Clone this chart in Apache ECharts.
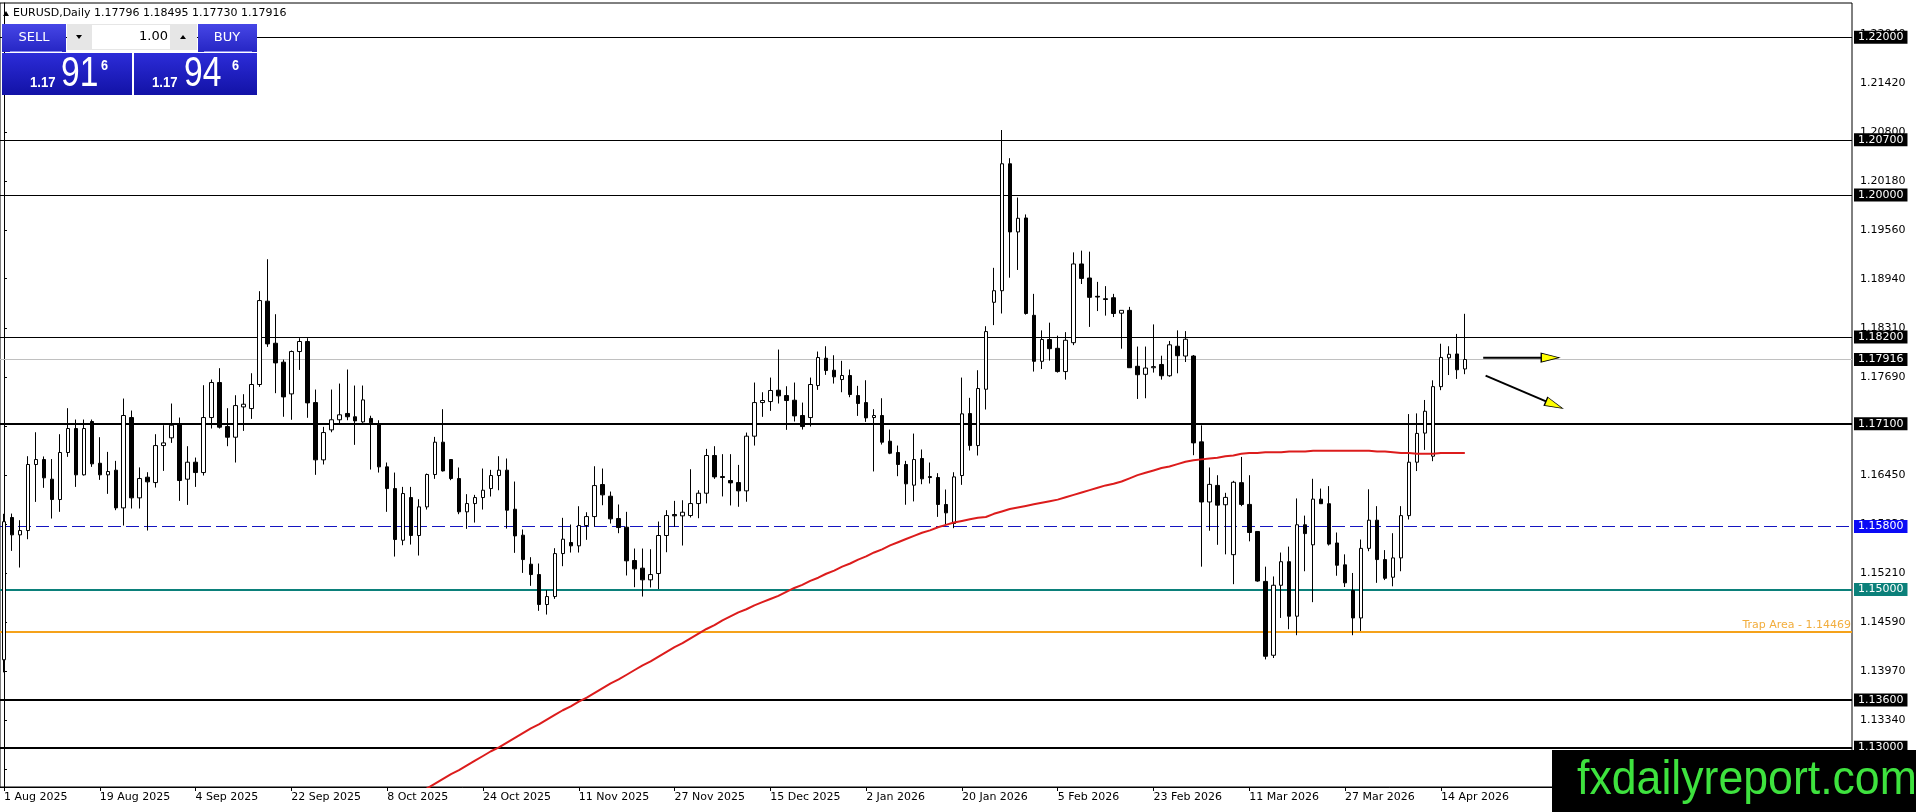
<!DOCTYPE html>
<html><head><meta charset="utf-8">
<script src="https://cdn.jsdelivr.net/npm/echarts@6/dist/echarts.min.js"></script>
<style>html,body{margin:0;padding:0;background:#fff;overflow:hidden}#c{width:1916px;height:812px}</style>
</head><body><div id="c"></div>
<script>
// ---------------- DATA ----------------
const symbolName = 'EURUSD,Daily';
const tradingDays = [
  ['Aug 2025', [1,4,5,6,7,8,11,12,13,14,15,18,19,20,21,22,25,26,27,28,29]],
  ['Sep 2025', [1,2,3,4,5,8,9,10,11,12,15,16,17,18,19,22,23,24,25,26,29,30]],
  ['Oct 2025', [1,2,3,6,7,8,9,10,13,14,15,16,17,20,21,22,23,24,27,28,29,30,31]],
  ['Nov 2025', [3,4,5,6,7,10,11,12,13,14,17,18,19,20,21,24,25,26,27,28]],
  ['Dec 2025', [1,2,3,4,5,8,9,10,11,12,15,16,17,18,19,22,23,24,26,29,30,31]],
  ['Jan 2026', [2,5,6,7,8,9,12,13,14,15,16,19,20,21,22,23,26,27,28,29,30]],
  ['Feb 2026', [2,3,4,5,6,9,10,11,12,13,16,17,18,19,20,23,24,25,26,27]],
  ['Mar 2026', [2,3,4,5,6,9,10,11,12,13,16,17,18,19,20,23,24,25,26,27,30,31]],
  ['Apr 2026', [1,2,3,6,7,8,9,10,13,14,15,16,17]]
];
const xTickLabels = ['1 Aug 2025','19 Aug 2025','4 Sep 2025','22 Sep 2025','8 Oct 2025','24 Oct 2025',
  '11 Nov 2025','27 Nov 2025','15 Dec 2025','2 Jan 2026','20 Jan 2026','5 Feb 2026','23 Feb 2026',
  '11 Mar 2026','27 Mar 2026','14 Apr 2026'];
const yTickLabels = [1.2204,1.2142,1.2080,1.2018,1.1956,1.1894,1.1831,1.1769,1.1707,1.1645,1.1583,1.1521,1.1459,1.1397,1.1334,1.1272];
const emptySlots = 48;   // empty bars to the right of the last candle

// [open, high, low, close]
const ohlc = [
[1.1411,1.1596,1.1395,1.1586],[1.15913,1.15963,1.1549,1.15693],[1.15693,1.15879,1.15279,1.15748],[1.15748,1.1669,1.15638,1.16585],
[1.16585,1.16994,1.16111,1.16648],[1.16648,1.16687,1.16289,1.16416],[1.16399,1.16654,1.159,1.16141],[1.16141,1.16969,1.15985,1.16737],
[1.16737,1.17299,1.16682,1.17041],[1.17041,1.17155,1.16301,1.16454],[1.16454,1.17155,1.16445,1.17041],[1.1713,1.17155,1.16555,1.16593],
[1.16601,1.16931,1.1639,1.16454],[1.16454,1.16745,1.16213,1.16496],[1.16513,1.16631,1.16006,1.16035],[1.16035,1.17421,1.15811,1.17206],
[1.1718,1.17269,1.16027,1.16162],[1.16162,1.16548,1.16027,1.16407],[1.16424,1.16487,1.15748,1.16365],[1.16356,1.16969,1.16293,1.16825],
[1.16825,1.17083,1.16504,1.16859],[1.16923,1.17358,1.16859,1.17083],[1.171,1.1718,1.16124,1.16382],[1.16399,1.16817,1.16073,1.16614],
[1.16614,1.16673,1.16301,1.16483],[1.16483,1.1759,1.16445,1.1718],[1.1718,1.17662,1.17041,1.17624],[1.17624,1.17806,1.17041,1.17058],
[1.17066,1.17299,1.16817,1.16931],[1.16931,1.17463,1.1661,1.17332],[1.17315,1.17476,1.17011,1.17349],[1.17294,1.17742,1.17163,1.17599],
[1.17599,1.18782,1.17569,1.18663],[1.18655,1.19187,1.18076,1.18114],[1.18122,1.1849,1.17489,1.17873],[1.17882,1.17915,1.1719,1.17442],
[1.1748,1.1803,1.17152,1.18017],[1.18017,1.18186,1.17784,1.18144],[1.18144,1.18186,1.17177,1.17366],[1.1737,1.17535,1.16454,1.16644],
[1.16644,1.17062,1.16585,1.1699],[1.17024,1.17535,1.16994,1.17152],[1.17152,1.17611,1.17108,1.17215],[1.17232,1.17789,1.17146,1.1719],
[1.1719,1.17586,1.16834,1.17138],[1.17125,1.17586,1.17113,1.17404],[1.17169,1.17203,1.16521,1.17113],[1.171,1.17146,1.16483,1.16555],
[1.16555,1.1661,1.15985,1.1628],[1.1628,1.16483,1.15418,1.15634],[1.15625,1.16301,1.15562,1.16217],[1.16166,1.16301,1.1557,1.15685],
[1.15685,1.16145,1.15431,1.16048],[1.16048,1.1647,1.16014,1.16458],[1.16458,1.16935,1.16403,1.16868],[1.16868,1.17286,1.16496,1.16504],
[1.16648,1.16654,1.16386,1.16407],[1.16407,1.16547,1.15955,1.15985],[1.15985,1.16209,1.15769,1.1609],[1.1609,1.162,1.15849,1.16166],
[1.16166,1.16534,1.16014,1.16259],[1.1628,1.16517,1.16179,1.16445],[1.16445,1.1669,1.16259,1.16513],[1.16513,1.16661,1.15773,1.16006],
[1.16018,1.16369,1.15465,1.1568],[1.15689,1.15761,1.15211,1.1538],[1.15321,1.1541,1.15047,1.1519],[1.1519,1.1533,1.1473,1.1481],
[1.1481,1.14992,1.14683,1.14911],[1.14911,1.15524,1.14882,1.15456],[1.15456,1.15909,1.15296,1.15638],[1.15596,1.15824,1.15469,1.15554],
[1.15554,1.16056,1.15469,1.15811],[1.15811,1.1598,1.1563,1.15925],[1.15925,1.16563,1.15799,1.16318],[1.16331,1.16534,1.16069,1.162],
[1.16183,1.16242,1.15837,1.15896],[1.159,1.16078,1.15714,1.15786],[1.1579,1.15985,1.15178,1.15364],[1.15368,1.1552,1.1503,1.15262],
[1.15271,1.1552,1.14911,1.15123],[1.15123,1.15511,1.15026,1.1519],[1.15203,1.15862,1.15006,1.15685],[1.15685,1.16006,1.15473,1.15938],
[1.15951,1.16124,1.15794,1.15934],[1.15934,1.16132,1.15558,1.1598],[1.15938,1.16525,1.15913,1.1609],[1.1609,1.16259,1.15904,1.16221],
[1.16221,1.16783,1.16092,1.16699],[1.16699,1.16817,1.16403,1.16428],[1.16432,1.16716,1.1618,1.1642],[1.16382,1.16716,1.16066,1.16352],
[1.16356,1.1658,1.16049,1.16251],[1.16251,1.1699,1.16113,1.16944],[1.16944,1.17624,1.16825,1.1737],[1.1737,1.17501,1.17189,1.17396],
[1.17383,1.17687,1.17265,1.17523],[1.17527,1.18042,1.17358,1.17455],[1.17459,1.17577,1.17024,1.17396],[1.174,1.17624,1.1713,1.17201],
[1.17206,1.1737,1.17028,1.17066],[1.1718,1.17687,1.17066,1.17599],[1.17586,1.18017,1.17531,1.17941],[1.17932,1.18084,1.17721,1.17776],
[1.1778,1.1797,1.17611,1.17696],[1.17662,1.17899,1.17501,1.17713],[1.17713,1.17789,1.17438,1.17472],[1.17459,1.17582,1.17201,1.17358],
[1.1737,1.17653,1.17125,1.17176],[1.1718,1.17286,1.16497,1.17206],[1.17206,1.17425,1.16838,1.16868],[1.1688,1.17028,1.16716,1.16728],
[1.16737,1.16825,1.16437,1.16585],[1.16585,1.16631,1.16075,1.1634],[1.16323,1.16977,1.16117,1.16648],[1.16661,1.16775,1.16335,1.16403],
[1.16432,1.1661,1.16344,1.1642],[1.1642,1.16475,1.15921,1.16078],[1.16078,1.16268,1.15828,1.15972],[1.15837,1.16487,1.15778,1.16428],
[1.16445,1.17687,1.16327,1.17227],[1.17231,1.1743,1.16762,1.16825],[1.16825,1.1778,1.16699,1.17548],[1.17539,1.18338,1.17282,1.1827],
[1.18641,1.19078,1.18352,1.18788],[1.18788,1.20825,1.18499,1.20397],[1.20397,1.20468,1.18953,1.19533],[1.19533,1.19969,1.19051,1.19706],
[1.1971,1.19755,1.18485,1.18499],[1.18476,1.18748,1.17763,1.17893],[1.17893,1.18285,1.17795,1.18169],[1.18169,1.18383,1.17902,1.18053],
[1.18058,1.18218,1.1775,1.17763],[1.17763,1.18263,1.17661,1.1816],[1.18129,1.19274,1.18098,1.19127],[1.19127,1.19296,1.18873,1.18944],
[1.18949,1.19283,1.18329,1.18704],[1.18717,1.189,1.1853,1.18708],[1.18686,1.18846,1.18472,1.18677],[1.18699,1.18748,1.18454,1.18499],
[1.18503,1.18539,1.18053,1.18539],[1.18539,1.18583,1.17812,1.17812],[1.1783,1.1808,1.17416,1.17723],[1.17728,1.1808,1.17425,1.17808],
[1.17812,1.18361,1.1775,1.17826],[1.17853,1.17964,1.17661,1.1771],[1.1771,1.18151,1.17697,1.18102],[1.18084,1.18285,1.17741,1.17964],
[1.1796,1.18276,1.17884,1.18173],[1.1796,1.17973,1.16703,1.16859],[1.16872,1.17082,1.1529,1.1611],[1.1611,1.16547,1.15745,1.16333],
[1.1632,1.16449,1.15567,1.1607],[1.16075,1.16226,1.15446,1.16168],[1.15442,1.16378,1.15068,1.1636],[1.16355,1.16681,1.16057,1.16079],
[1.16079,1.16449,1.15611,1.15723],[1.15736,1.15736,1.15099,1.15108],[1.15103,1.1529,1.14114,1.14154],[1.14167,1.15166,1.14132,1.15054],
[1.15054,1.15469,1.1464,1.15353],[1.15353,1.15544,1.14497,1.14662],[1.14662,1.16155,1.14421,1.15821],[1.15821,1.15937,1.15232,1.15709],
[1.15567,1.16404,1.1484,1.16146],[1.16146,1.1628,1.16088,1.16088],[1.16088,1.16311,1.15558,1.15576],[1.1559,1.15723,1.15175,1.15308],
[1.15313,1.15446,1.15032,1.15085],[1.14987,1.1521,1.14421,1.1464],[1.1464,1.15634,1.14475,1.15522],[1.15522,1.16271,1.15486,1.15879],
[1.15879,1.16057,1.15085,1.1538],[1.1538,1.155,1.1512,1.15143],[1.15156,1.15714,1.15041,1.15401],[1.15401,1.16057,1.15232,1.15937],
[1.15937,1.17224,1.15888,1.16614],[1.16614,1.17233,1.16502,1.16979],[1.16983,1.17403,1.1677,1.1726],[1.1669,1.17652,1.16627,1.17572],
[1.17572,1.18116,1.17527,1.17942],[1.17937,1.18084,1.17719,1.17982],[1.17986,1.1824,1.1767,1.17786],[1.17796,1.18495,1.1773,1.17916]
];

// moving average, starting at bar index maStart (earlier values lie below the visible range)
const maStart = 50;
const maValues = [
1.1230,1.1236,1.1242,1.1248,1.1254,1.1260,1.1266,1.1271,1.1277,1.1283,
1.1289,1.1295,1.1300,1.1306,1.1312,1.1318,1.1324,1.1329,1.1335,1.1341,
1.1347,1.1352,1.1358,1.1363,1.1369,1.1375,1.1381,1.1386,1.1392,1.1398,
1.1404,1.1409,1.1415,1.1421,1.1427,1.1432,1.1438,1.1444,1.1450,1.1455,
1.1461,1.1466,1.1471,1.1475,1.1480,1.1484,1.1488,1.1492,1.1497,1.1502,
1.1506,1.1511,1.1515,1.1520,1.1524,1.1529,1.1533,1.1538,1.1542,1.1547,
1.1551,1.1556,1.1560,1.1564,1.1568,1.1572,1.1575,1.1579,1.1582,1.1585,
1.1587,1.1589,1.1591,1.1592,1.1596,1.1599,1.1602,1.1604,1.1606,1.1608,
1.1610,1.1612,1.1614,1.1617,1.1620,1.1623,1.1626,1.1629,1.1632,1.1634,
1.1637,1.1641,1.1645,1.1648,1.1651,1.1654,1.1656,1.1659,1.1662,1.1664,
1.1665,1.1666,1.1667,1.1669,1.1670,1.1672,1.1673,1.1673,1.1674,1.1674,
1.1674,1.1675,1.1675,1.1675,1.1676,1.1676,1.1676,1.1676,1.1676,1.1676,
1.1676,1.1676,1.1675,1.1675,1.1674,1.1673,1.1673,1.1672,1.1672,1.1672,
1.1673,1.1673,1.1673,1.1673
];

// horizontal levels
const levelValues = [1.22000,1.20700,1.20000,1.18200,1.17916,1.17100,1.15800,1.15000,1.14469,1.13600,1.13000];
const trapLabel = 'Trap Area - 1.14469';
// arrow annotations: [start, head] in [bar index, price]
const arrows = [
  [[185.3,1.17939],[193.7,1.17939]],
  [[185.6,1.17711],[194.2,1.17341]]
];
const bidPrice = 1.17916, askPrice = 1.17946, lotSize = '1.00';
const watermark = 'fxdailyreport.com';

// ---------------- BUILD ----------------
const font = "'DejaVu Sans', sans-serif";
const dates = [];
tradingDays.forEach(([m, ds]) => ds.forEach(d => dates.push(d + ' ' + m)));
const cats = dates.concat(new Array(emptySlots).fill(''));
const N = cats.length;
const candleData = ohlc.map(r => [r[0], r[3], r[2], r[1]]);
const maData = new Array(maStart).fill(null).concat(maValues);
const showX = (i, v) => xTickLabels.indexOf(v) >= 0;

const levelLook = [
  {c:'#000', w:1, t:'solid', box:'#000'},
  {c:'#000', w:1, t:'solid', box:'#000'},
  {c:'#000', w:1, t:'solid', box:'#000'},
  {c:'#000', w:1, t:'solid', box:'#000'},
  {c:'#c0c0c0', w:1, t:'solid', box:'#000'},
  {c:'#000', w:2, t:'solid', box:'#000'},
  {c:'#1414c0', w:1, t:[13,5], box:'#0a0af5'},
  {c:'#0b807a', w:2, t:'solid', box:'#0b807a'},
  {c:'#f5a21a', w:2, t:'solid', box:null},
  {c:'#000', w:2, t:'solid', box:'#000'},
  {c:'#000', w:2, t:'solid', box:'#000'}
];
const markLineData = levelValues.map((v, i) => {
  const L = levelLook[i];
  const label = L.box ? {
    show:true, position:'end', distance:2, formatter: v.toFixed(5),
    backgroundColor:L.box, color:'#fff', padding:[1,4,0,4], fontFamily:font, fontSize:11, lineHeight:12
  } : {
    show:true, position:'insideEndTop', distance:1, formatter: trapLabel,
    color:'#f2ad3c', fontFamily:font, fontSize:11
  };
  return {yAxis:v, lineStyle:{color:L.c, width:L.w, type:L.t}, label:label};
});

const arrowSeries = arrows.map(a => {
  const ang = Math.atan2(a[1][1] - a[0][1], (a[1][0] - a[0][0]) * 0.00101) * 180 / Math.PI;
  return {
    type:'line', xAxisIndex:1, yAxisIndex:0, silent:true, z:6, animation:false,
    lineStyle:{color:'#000', width:2},
    showSymbol:true,
    data:[
      {value:a[0], symbol:'none'},
      {value:a[1], symbol:'triangle', symbolSize:[9,18], symbolRotate: -90 + ang,
       itemStyle:{color:'#ffff00', borderColor:'#000', borderWidth:1}}
    ]
  };
});

const last = ohlc[ohlc.length - 1];
const titleText = symbolName + ' ' + last.map(x => x.toFixed(5)).join(' ');
function splitPrice(p){ const s = p.toFixed(5); return [s.slice(0,4), s.slice(4,6), s.slice(6)]; }
const sp = splitPrice(bidPrice), bp = splitPrice(askPrice);
const btnGrad = {type:'linear', x:0, y:0, x2:0, y2:1, colorStops:[{offset:0,color:'#4646e6'},{offset:1,color:'#2626c4'}]};
const boxGrad = {type:'linear', x:0, y:0, x2:0, y2:1, colorStops:[{offset:0,color:'#2c2cd8'},{offset:1,color:'#1212a6'}]};
const Z = 100;
const graphics = [
  {type:'polygon', z:Z, shape:{points:[[3,16],[9,16],[6,11]]}, style:{fill:'#000'}},
  {type:'text', z:Z, x:13, y:13, style:{text:titleText, fill:'#000', fontFamily:font, fontSize:11, verticalAlign:'middle'}},
  {type:'rect', z:Z, shape:{x:2, y:24, width:64, height:28}, style:{fill:btnGrad}},
  {type:'rect', z:Z, shape:{x:10, y:51, width:52, height:1}, style:{fill:'#8a8aee'}},
  {type:'text', z:Z+1, x:34, y:38, style:{text:'SELL', fill:'#fff', fontFamily:font, fontSize:13, align:'center', verticalAlign:'middle'}},
  {type:'rect', z:Z, shape:{x:67, y:24, width:130, height:26}, style:{fill:'#e6e6e6'}},
  {type:'rect', z:Z, shape:{x:92, y:25, width:78, height:24}, style:{fill:'#fff'}},
  {type:'polygon', z:Z+1, shape:{points:[[76,35],[82,35],[79,39]]}, style:{fill:'#000'}},
  {type:'polygon', z:Z+1, shape:{points:[[180,39],[186,39],[183,35]]}, style:{fill:'#000'}},
  {type:'text', z:Z+1, x:168, y:37, style:{text:lotSize, fill:'#000', fontFamily:font, fontSize:13, align:'right', verticalAlign:'middle'}},
  {type:'rect', z:Z, shape:{x:198, y:24, width:59, height:28}, style:{fill:btnGrad}},
  {type:'rect', z:Z, shape:{x:204, y:51, width:48, height:1}, style:{fill:'#8a8aee'}},
  {type:'text', z:Z+1, x:227, y:38, style:{text:'BUY', fill:'#fff', fontFamily:font, fontSize:13, align:'center', verticalAlign:'middle'}},
  {type:'rect', z:Z, shape:{x:2, y:53, width:130, height:42}, style:{fill:boxGrad}},
  {type:'rect', z:Z, shape:{x:134, y:53, width:123, height:42}, style:{fill:boxGrad}},
  {type:'text', z:Z+1, x:30, y:83, scaleX:0.88, style:{text:sp[0], fill:'#fff', fontFamily:'Liberation Sans', fontWeight:'bold', fontSize:15, verticalAlign:'middle'}},
  {type:'text', z:Z+1, x:61, y:74, scaleX:0.8, style:{text:sp[1], fill:'#fff', fontFamily:'Liberation Sans', fontSize:42, verticalAlign:'middle'}},
  {type:'text', z:Z+1, x:101, y:66, scaleX:0.9, style:{text:sp[2], fill:'#fff', fontFamily:'Liberation Sans', fontWeight:'bold', fontSize:14, verticalAlign:'middle'}},
  {type:'text', z:Z+1, x:152, y:83, scaleX:0.88, style:{text:bp[0], fill:'#fff', fontFamily:'Liberation Sans', fontWeight:'bold', fontSize:15, verticalAlign:'middle'}},
  {type:'text', z:Z+1, x:184, y:74, scaleX:0.8, style:{text:bp[1], fill:'#fff', fontFamily:'Liberation Sans', fontSize:42, verticalAlign:'middle'}},
  {type:'text', z:Z+1, x:232, y:66, scaleX:0.9, style:{text:bp[2], fill:'#fff', fontFamily:'Liberation Sans', fontWeight:'bold', fontSize:14, verticalAlign:'middle'}},
  {type:'rect', z:Z, shape:{x:1552, y:750, width:364, height:62}, style:{fill:'#000'}},
  {type:'text', z:Z+1, x:1577, y:781, scaleX:0.93, style:{text:watermark, fill:'#3ee23e', fontFamily:'Liberation Sans', fontSize:48, verticalAlign:'middle'}}
];

const option = {
  animation:false,
  backgroundColor:'#fff',
  grid:{left:0, right:64, top:3, bottom:25, show:true, borderColor:'#000', borderWidth:1, backgroundColor:'#fff', containLabel:false, outerBoundsMode:'none'},
  xAxis:[{
    type:'category', data:cats, boundaryGap:true,
    axisLine:{show:true, lineStyle:{color:'#000', width:1}},
    axisTick:{show:true, alignWithLabel:true, interval:showX, length:4, lineStyle:{color:'#000'}},
    axisLabel:{show:true, interval:showX, align:'left', margin:5, color:'#000', fontFamily:font, fontSize:11, hideOverlap:false},
    splitLine:{show:false}
  },{
    type:'value', min:-0.5, max:N - 0.5, show:false, splitLine:{show:false}
  }],
  yAxis:[{
    type:'value', position:'right', min:1.12497, max:1.22435,
    axisLine:{show:true, lineStyle:{color:'#000', width:1}},
    axisTick:{show:true, length:3, customValues:yTickLabels, lineStyle:{color:'#000'}},
    axisLabel:{show:true, customValues:yTickLabels, formatter:v => Number(v).toFixed(5), margin:8, color:'#000', fontFamily:font, fontSize:11},
    splitLine:{show:false}
  }],
  series:[
    {
      type:'candlestick', data:candleData, barWidth:4, silent:true, z:3,
      itemStyle:{color:'#fff', color0:'#000', borderColor:'#000', borderColor0:'#000', borderColorDoji:'#000', borderWidth:1},
      markLine:{symbol:['none','none'], silent:true, animation:false, precision:5, z:2, data:markLineData}
    },
    {
      type:'line', data:maData, symbol:'none', showSymbol:false, silent:true, z:4,
      lineStyle:{color:'#dc1c1c', width:2}, connectNulls:false
    }
  ].concat(arrowSeries),
  graphic:graphics
};
const chart = echarts.init(document.getElementById('c'), null, {renderer:'canvas'});
chart.setOption(option);
</script>
</body></html>
